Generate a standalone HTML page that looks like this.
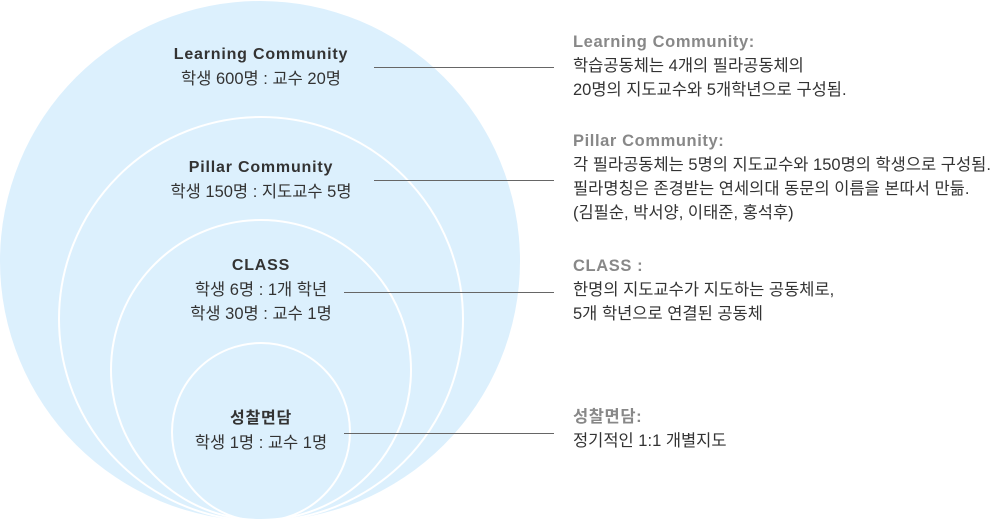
<!DOCTYPE html>
<html><head><meta charset="utf-8"><style>
body{margin:0;width:996px;height:525px;background:#fff;position:relative;overflow:hidden;font-family:"Liberation Sans","Noto Sans CJK KR",sans-serif;}
.t{position:absolute;white-space:nowrap;font-size:16.5px;line-height:24px;}
.c{text-align:center;color:#333;width:300px;}
.b{font-weight:bold;font-size:16px;letter-spacing:0.8px;}
.r{left:573px;color:#333;}
.h{color:#888;font-size:16.5px;letter-spacing:0.6px;font-weight:bold;}
</style></head><body>
<svg width="996" height="525" style="position:absolute;left:0;top:0">
<circle cx="260" cy="261" r="260" fill="#dcf0fd"/>
<circle cx="261" cy="319" r="202" fill="none" stroke="#fff" stroke-width="2"/>
<circle cx="261" cy="370" r="150" fill="none" stroke="#fff" stroke-width="2"/>
<circle cx="261" cy="432" r="89" fill="none" stroke="#fff" stroke-width="2"/>
<g stroke="#666" stroke-width="1">
<line x1="374" y1="67.5" x2="554" y2="67.5"/>
<line x1="374" y1="180.5" x2="554" y2="180.5"/>
<line x1="344" y1="292.5" x2="554" y2="292.5"/>
<line x1="344" y1="433.5" x2="554" y2="433.5"/>
</g>
</svg>
<div class="t c" style="left:111px;top:42px"><span class="b">Learning Community</span><br>학생 600명 : 교수 20명</div>
<div class="t c" style="left:111px;top:155px"><span class="b">Pillar Community</span><br>학생 150명 : 지도교수 5명</div>
<div class="t c" style="left:111px;top:253px"><span class="b">CLASS</span><br>학생 6명 : 1개 학년<br>학생 30명 : 교수 1명</div>
<div class="t c" style="left:111px;top:406px"><span class="b">성찰면담</span><br>학생 1명 : 교수 1명</div>
<div class="t r" style="top:30px"><span class="h">Learning Community:</span><br>학습공동체는 4개의 필라공동체의<br>20명의 지도교수와 5개학년으로 구성됨.</div>
<div class="t r" style="top:129px"><span class="h">Pillar Community:</span><br>각 필라공동체는 5명의 지도교수와 150명의 학생으로 구성됨.<br>필라명칭은 존경받는 연세의대 동문의 이름을 본따서 만듦.<br>(김필순, 박서양, 이태준, 홍석후)</div>
<div class="t r" style="top:254px"><span class="h">CLASS :</span><br>한명의 지도교수가 지도하는 공동체로,<br>5개 학년으로 연결된 공동체</div>
<div class="t r" style="top:405px"><span class="h">성찰면담:</span><br>정기적인 1:1 개별지도</div>
</body></html>
